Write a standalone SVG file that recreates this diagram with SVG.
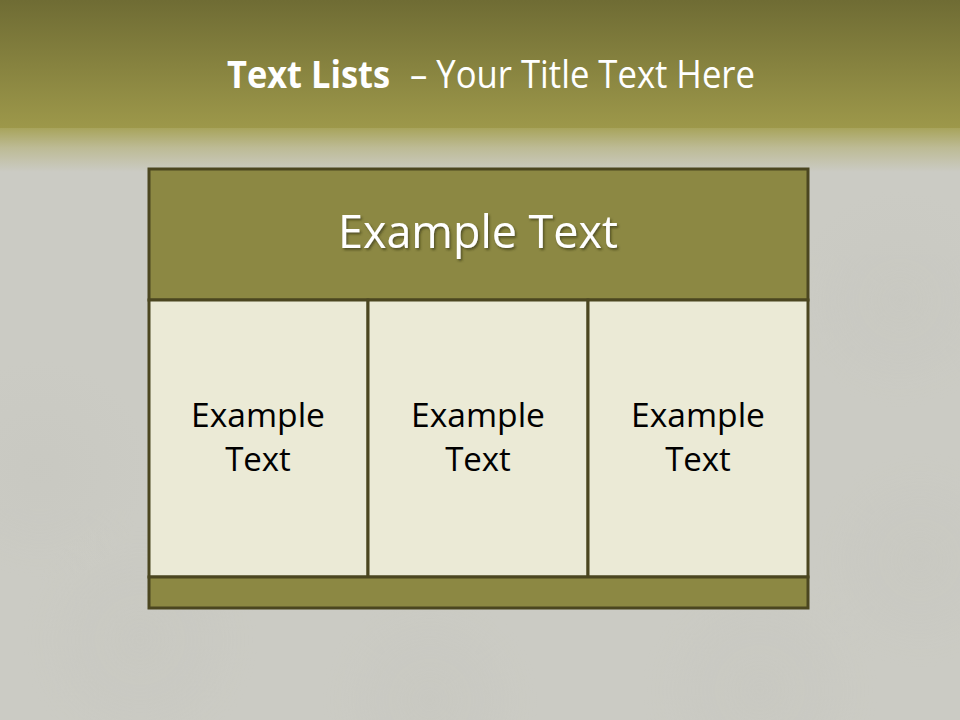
<svg xmlns="http://www.w3.org/2000/svg" width="960" height="720" viewBox="0 0 960 720">
  <defs>
    <linearGradient id="band" x1="0" y1="0" x2="0" y2="1">
      <stop offset="0" stop-color="#6f6c34"/>
      <stop offset="1" stop-color="#9d984a"/>
    </linearGradient>
    <linearGradient id="fade" x1="0" y1="0" x2="0" y2="1">
      <stop offset="0" stop-color="#a8a45c"/>
      <stop offset="0.45" stop-color="#bdbb95"/>
      <stop offset="1" stop-color="#cbcbc4"/>
    </linearGradient>
    <radialGradient id="circ" cx="0.5" cy="0.5" r="0.5">
      <stop offset="0" stop-color="#c6c6bf" stop-opacity="0.6"/>
      <stop offset="1" stop-color="#c6c6bf" stop-opacity="0"/>
    </radialGradient>
    <filter id="shadow" x="-10%" y="-20%" width="120%" height="150%">
      <feDropShadow dx="1.5" dy="2" stdDeviation="1.2" flood-color="#2a2a10" flood-opacity="0.6"/>
    </filter>
  </defs>
  <style>
    .frame { stroke: #4b4620; stroke-width: 3; }
    .dark { fill: #8c8843; }
    .light { fill: #ebead6; }
    .title { font-family: "Open Sans", "Noto Sans", sans-serif; fill: #ffffff; font-size: 38px; }
    .head { font-family: "Open Sans", "Noto Sans", sans-serif; fill: #ffffff; font-size: 46px; }
    .cell { font-family: "Open Sans", "Noto Sans", sans-serif; fill: #000000; font-size: 33px; text-anchor: middle; }
  </style>

  <!-- background -->
  <rect x="0" y="0" width="960" height="720" fill="#cbcbc4"/>
  <g opacity="0.8">
    <circle cx="40" cy="470" r="110" fill="url(#circ)"/>
    <circle cx="140" cy="640" r="120" fill="url(#circ)"/>
    <circle cx="430" cy="700" r="110" fill="url(#circ)"/>
    <circle cx="760" cy="690" r="120" fill="url(#circ)"/>
    <circle cx="900" cy="300" r="110" fill="url(#circ)"/>
    <circle cx="920" cy="560" r="110" fill="url(#circ)"/>
  </g>
  <rect x="0" y="0" width="960" height="128" fill="url(#band)"/>
  <rect x="0" y="128" width="960" height="44" fill="url(#fade)"/>

  <!-- title -->
  <g id="title">
    <text class="title" x="227" y="88" font-weight="bold" textLength="163" lengthAdjust="spacingAndGlyphs">Text Lists</text>
    <text class="title" x="410" y="88" textLength="345" lengthAdjust="spacingAndGlyphs">– Your Title Text Here</text>
  </g>

  <!-- table -->
  <g id="header">
    <rect class="dark frame" x="149" y="169" width="659" height="131"/>
    <text class="head" x="478" y="248" text-anchor="middle" textLength="280" lengthAdjust="spacingAndGlyphs" filter="url(#shadow)">Example Text</text>
  </g>
  <g id="cell1">
    <rect class="light frame" x="149" y="300" width="219" height="277"/>
    <text class="cell" x="258" y="427" textLength="134" lengthAdjust="spacingAndGlyphs">Example</text>
    <text class="cell" x="258" y="471">Text</text>
  </g>
  <g id="cell2">
    <rect class="light frame" x="368" y="300" width="220" height="277"/>
    <text class="cell" x="478" y="427" textLength="134" lengthAdjust="spacingAndGlyphs">Example</text>
    <text class="cell" x="478" y="471">Text</text>
  </g>
  <g id="cell3">
    <rect class="light frame" x="588" y="300" width="220" height="277"/>
    <text class="cell" x="698" y="427" textLength="134" lengthAdjust="spacingAndGlyphs">Example</text>
    <text class="cell" x="698" y="471">Text</text>
  </g>
  <g id="footer">
    <rect class="dark frame" x="149" y="577" width="659" height="31"/>
  </g>
</svg>
